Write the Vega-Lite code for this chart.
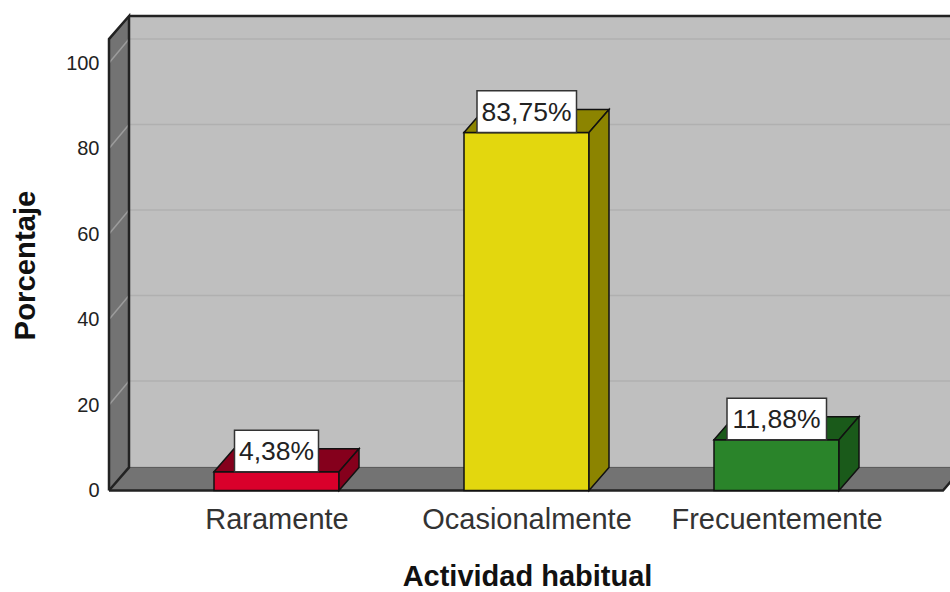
{
"$schema":"https://vega.github.io/schema/vega-lite/v6.json",
"width":841,"height":480.5,
"autosize":{"type":"none"},
"padding":{"left":109,"top":10,"right":0,"bottom":101.5},
"background":"white",
"config":{"view":{"stroke":null},"font":"Liberation Sans"},
"datasets":{
"walls":[
{"face":"lateral","x":0.33,"y":0,"y2":105.6},{"face":"lateral","x":0.41,"y":5.4,"y2":111},
{"face":"fondo","x":0.41,"y":5.4,"y2":111},{"face":"fondo","x":4,"y":5.4,"y2":111},
{"face":"suelo","x":0.33,"y":0,"y2":0},{"face":"suelo","x":0.41,"y":5.4,"y2":0},{"face":"suelo","x":3.666,"y":5.4,"y2":0},{"face":"suelo","x":3.746,"y":5.4,"y2":5.4}
],
"floorBack":[{"x":0.41,"y":5.4},{"x":3.746,"y":5.4}],
"edges":[
{"path":"lateral","o":1,"x":0.33,"y":0},{"path":"lateral","o":2,"x":0.33,"y":105.6},{"path":"lateral","o":3,"x":0.41,"y":111},{"path":"lateral","o":4,"x":0.41,"y":5.4},{"path":"lateral","o":5,"x":0.33,"y":0},
{"path":"techo","o":1,"x":0.41,"y":111},{"path":"techo","o":2,"x":4,"y":111},
{"path":"frente","o":1,"x":0.33,"y":0},{"path":"frente","o":2,"x":3.666,"y":0},{"path":"frente","o":3,"x":3.746,"y":5.4}
],
"gridBack":[
{"t":20,"x":0.41,"y":25.6},{"t":20,"x":4,"y":25.6},
{"t":40,"x":0.41,"y":45.6},{"t":40,"x":4,"y":45.6},
{"t":60,"x":0.41,"y":65.6},{"t":60,"x":4,"y":65.6},
{"t":80,"x":0.41,"y":85.6},{"t":80,"x":4,"y":85.6},
{"t":100,"x":0.41,"y":105.6},{"t":100,"x":4,"y":105.6}
],
"gridSide":[
{"t":0,"x":0.33,"y":0},{"t":0,"x":0.41,"y":5.4},
{"t":20,"x":0.33,"y":20},{"t":20,"x":0.41,"y":25.6},
{"t":40,"x":0.33,"y":40},{"t":40,"x":0.41,"y":45.6},
{"t":60,"x":0.33,"y":60},{"t":60,"x":0.41,"y":65.6},
{"t":80,"x":0.33,"y":80},{"t":80,"x":0.41,"y":85.6},
{"t":100,"x":0.33,"y":100},{"t":100,"x":0.41,"y":105.6}
],
"bars":[
{"face":"R frente","x":0.75,"y":0,"y2":4.38},{"face":"R frente","x":1.25,"y":0,"y2":4.38},
{"face":"R arriba","x":0.75,"y":4.38,"y2":4.38},{"face":"R arriba","x":0.83,"y":9.78,"y2":4.38},{"face":"R arriba","x":1.25,"y":9.78,"y2":4.38},{"face":"R arriba","x":1.33,"y":9.78,"y2":9.78},
{"face":"R lado","x":1.25,"y":0,"y2":4.38},{"face":"R lado","x":1.33,"y":5.4,"y2":9.78},
{"face":"O frente","x":1.75,"y":0,"y2":83.75},{"face":"O frente","x":2.25,"y":0,"y2":83.75},
{"face":"O arriba","x":1.75,"y":83.75,"y2":83.75},{"face":"O arriba","x":1.83,"y":89.15,"y2":83.75},{"face":"O arriba","x":2.25,"y":89.15,"y2":83.75},{"face":"O arriba","x":2.33,"y":89.15,"y2":89.15},
{"face":"O lado","x":2.25,"y":0,"y2":83.75},{"face":"O lado","x":2.33,"y":5.4,"y2":89.15},
{"face":"F frente","x":2.75,"y":0,"y2":11.88},{"face":"F frente","x":3.25,"y":0,"y2":11.88},
{"face":"F arriba","x":2.75,"y":11.88,"y2":11.88},{"face":"F arriba","x":2.83,"y":17.28,"y2":11.88},{"face":"F arriba","x":3.25,"y":17.28,"y2":11.88},{"face":"F arriba","x":3.33,"y":17.28,"y2":17.28},
{"face":"F lado","x":3.25,"y":0,"y2":11.88},{"face":"F lado","x":3.33,"y":5.4,"y2":17.28}
],
"boxes":[
{"x":0.832,"x2":1.168,"y":4.38,"y2":14.1},
{"x":1.802,"x2":2.2,"y":83.75,"y2":93.5},
{"x":2.802,"x2":3.2,"y":11.88,"y2":21.6}
],
"labels":[
{"label":"4,38%","x":1,"y":9.24},
{"label":"83,75%","x":2,"y":88.6},
{"label":"11,88%","x":3,"y":16.74}
]
},
"encoding":{
"x":{"field":"x","type":"quantitative","scale":{"domain":[0.33,3.694],"nice":false,"zero":false},
"axis":{"values":[1,2,3],"labelExpr":"datum.value==1?'Raramente':datum.value==2?'Ocasionalmente':'Frecuentemente'","grid":false,"domain":false,"ticks":false,"labelFontSize":29,"labelColor":"#333333","labelPadding":15,"labelLimit":400,"labelOverlap":false,"labelDx":-1,"labelFont":"Liberation Sans","title":"Actividad habitual","titleFontSize":29,"titleLimit":500,"titleFont":"Liberation Sans","titleFontWeight":"bold","titleColor":"#111111","titleX":418,"titleY":86,"titleBaseline":"middle"}},
"y":{"field":"y","type":"quantitative","scale":{"domain":[0,112.4],"nice":false,"zero":false},
"axis":{"values":[0,20,40,60,80,100],"grid":false,"domain":false,"ticks":false,"labelFontSize":20,"labelColor":"#222222","labelPadding":10,"labelFont":"Liberation Sans","title":"Porcentaje","titleFontSize":29.3,"titleFont":"Liberation Sans","titleFontWeight":"bold","titleColor":"#111111","titleX":-84,"titleY":255,"titleBaseline":"middle"}}
},
"layer":[
{"data":{"name":"walls"},"mark":{"type":"area","orient":"vertical"},
"encoding":{"y2":{"field":"y2"},"fill":{"field":"face","type":"nominal","legend":null,"scale":{"domain":["lateral","fondo","suelo","R frente","R arriba","R lado","O frente","O arriba","O lado","F frente","F arriba","F lado"],"range":["#737373","#BFBFBF","#737373","#D9002B","#85001C","#85001C","#E3D70E","#8C8400","#8C8400","#2A842A","#1A5A1A","#1A5A1A"]}}}},
{"data":{"name":"gridBack"},"mark":{"type":"line","stroke":"#B0B0B0","strokeWidth":1.5},"encoding":{"detail":{"field":"t","type":"nominal"}}},
{"data":{"name":"gridSide"},"mark":{"type":"line","stroke":"#9C9C9C","strokeWidth":1.5},"encoding":{"detail":{"field":"t","type":"nominal"}}},
{"data":{"name":"floorBack"},"mark":{"type":"line","stroke":"#555555","strokeWidth":1}},
{"data":{"name":"edges"},"mark":{"type":"line","stroke":"#222222","strokeWidth":2.5,"strokeJoin":"miter"},"encoding":{"detail":{"field":"path","type":"nominal"},"order":{"field":"o","type":"quantitative"}}},
{"data":{"name":"bars"},"mark":{"type":"area","orient":"vertical","stroke":"#111111","strokeWidth":1.5,"strokeJoin":"miter"},
"encoding":{"y2":{"field":"y2"},"fill":{"field":"face","type":"nominal","legend":null,"scale":{"domain":["lateral","fondo","suelo","R frente","R arriba","R lado","O frente","O arriba","O lado","F frente","F arriba","F lado"],"range":["#737373","#BFBFBF","#737373","#D9002B","#85001C","#85001C","#E3D70E","#8C8400","#8C8400","#2A842A","#1A5A1A","#1A5A1A"]}}}},
{"data":{"name":"boxes"},"mark":{"type":"rect","fill":"white","stroke":"#333333","strokeWidth":1.5},
"encoding":{"x2":{"field":"x2"},"y2":{"field":"y2"}}},
{"data":{"name":"labels"},"mark":{"type":"text","fontSize":26.5,"font":"Liberation Sans","color":"#222222","baseline":"middle","align":"center","dy":1.5},
"encoding":{"text":{"field":"label"}}}
]
}
